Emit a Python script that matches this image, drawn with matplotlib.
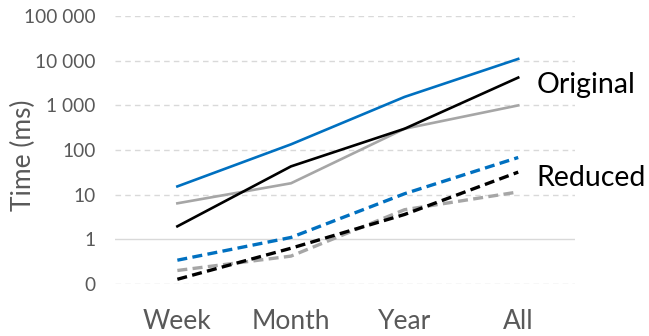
import matplotlib.pyplot as plt
from matplotlib.ticker import FixedLocator, FuncFormatter

periods = ['Week', 'Month', 'Year', 'All']

# original queries (solid)
orig_blue = [15.3, 134, 1550, 11000]
orig_black = [1.95, 43, 300, 4200]
orig_gray = [6.4, 18, 300, 1000]

# reduced queries (dashed)
red_blue = [0.34, 1.1, 10.5, 68]
red_black = [0.127, 0.63, 3.6, 32]
red_gray = [0.2, 0.42, 4.6, 11.5]

blue = '#0070C0'
black = '#000000'
gray = '#A6A6A6'

plt.rcParams['font.family'] = ['Lato', 'DejaVu Sans']

fig = plt.figure(figsize=(6.49, 3.36), dpi=100)
ax = fig.add_axes([0.177, 0.155, 0.709, 0.797])

x = range(len(periods))
ax.plot(x, orig_gray, color=gray, lw=1.9)
ax.plot(x, orig_black, color=black, lw=1.9)
ax.plot(x, orig_blue, color=blue, lw=1.9)
ax.plot(x, red_gray, color=gray, lw=2.4, ls=(0, (3, 1.6)))
ax.plot(x, red_black, color=black, lw=2.4, ls=(0, (3, 1.6)))
ax.plot(x, red_blue, color=blue, lw=2.4, ls=(0, (3, 1.6)))

ax.set_yscale('log')
ax.set_ylim(0.1, 100000)
ax.set_xlim(-0.55, 3.5)

yt = [0.1, 1, 10, 100, 1000, 10000, 100000]
ax.yaxis.set_major_locator(FixedLocator(yt))
ax.yaxis.set_minor_locator(FixedLocator([]))
ax.yaxis.set_major_formatter(FuncFormatter(
    lambda v, p: '0' if v < 1 else f'{int(round(v)):,}'.replace(',', ' ')))
for v in yt:
    if v == 1:
        ax.axhline(v, color='#D9D9D9', lw=1, zorder=0)
    else:
        ax.axhline(v, color='#D9D9D9', lw=1, ls=(0, (4, 3)), zorder=0)

ax.set_xticks(list(x))
ax.set_xticklabels(periods)
ax.tick_params(axis='x', length=0, pad=18, labelsize=19, labelcolor='#595959')
ax.tick_params(axis='y', length=0, pad=14, labelsize=13.8, labelcolor='#595959')
for s in ax.spines.values():
    s.set_visible(False)

ax.set_ylabel('Time (ms)', fontsize=19, color='#595959')
ax.yaxis.set_label_coords(-0.172, 0.48)

fig.text(0.827, 0.748, 'Original', fontsize=20.5, color='black', va='center')
fig.text(0.827, 0.470, 'Reduced', fontsize=20.5, color='black', va='center')

plt.savefig('out.png', dpi=100)
